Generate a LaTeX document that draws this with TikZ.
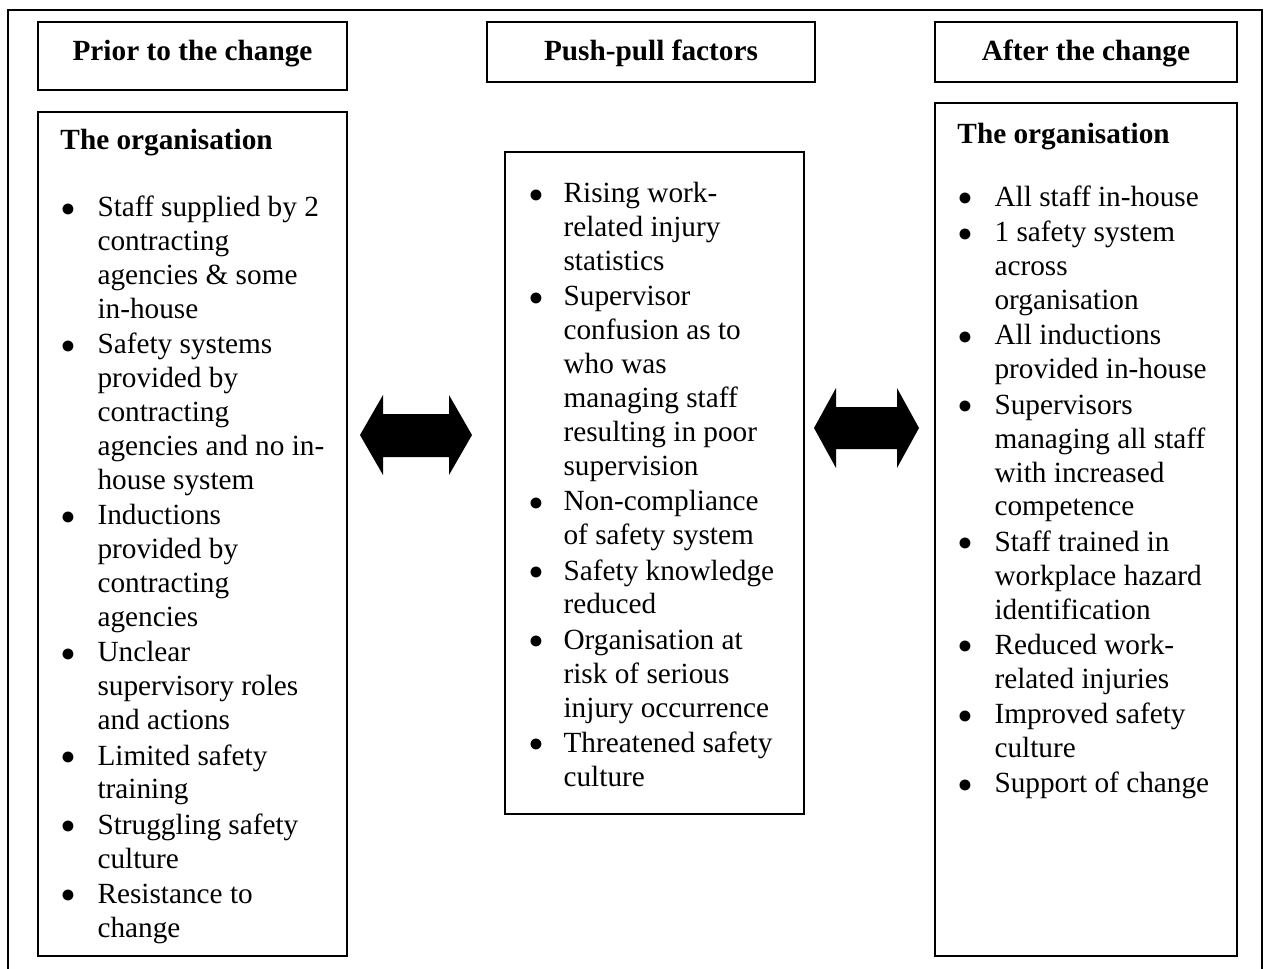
\documentclass[tikz,border=0pt]{standalone}
\usepackage{fontspec}
\setmainfont{Liberation Serif}
\usetikzlibrary{fit}
\tikzset{
  box/.style={draw, line width=0.6pt, inner sep=0pt},
  head/.style={font=\fontsize{12}{13.9}\selectfont\bfseries, inner sep=0pt, anchor=base},
  txt/.style={font=\fontsize{12}{13.9}\selectfont, inner sep=0pt, anchor=base west},
}
\newcommand{\bl}{\raisebox{-3pt}{\scalebox{1.55}{\textbullet}}}
\begin{document}
\begin{tikzpicture}[x=0.41pt, y=-0.41pt]
\useasboundingbox (0,0) rectangle (1265,969);
\draw[line width=0.6pt] (8,969) -- (8,10) -- (1262,10) -- (1262,969);

% column titles
\node[box, fit={(38,22) (347,90)}] (prior) {};
\node[box, fit={(487,22) (815,82)}] (push) {};
\node[box, fit={(935,22) (1237,82)}] (after) {};
\node[head] (priortxt) at (192.5,60) {Prior to the change};
\node[head] (pushtxt) at (651,60) {Push-pull factors};
\node[head] (aftertxt) at (1086,60) {After the change};

% bodies
\node[box, fit={(38,112) (347,956)}] (orgprior) {};
\node[box, fit={(505,152) (804,814)}] (factors) {};
\node[box, fit={(935,103) (1237,956)}] (orgafter) {};

\node[txt] (priorlist) at (60,149) {\begin{tabular}[t]{@{}p{15.2pt}@{}l@{}}
\multicolumn{2}{@{}l@{}}{\textbf{The organisation}}\\
\\
\bl & Staff supplied by 2\\
 & contracting\\
 & agencies \& some\\
 & in-house\\[0.6pt]
\bl & Safety systems\\
 & provided by\\
 & contracting\\
 & agencies and no in-\\
 & house system\\[0.6pt]
\bl & Inductions\\
 & provided by\\
 & contracting\\
 & agencies\\[0.6pt]
\bl & Unclear\\
 & supervisory roles\\
 & and actions\\[0.6pt]
\bl & Limited safety\\
 & training\\[0.6pt]
\bl & Struggling safety\\
 & culture\\[0.6pt]
\bl & Resistance to\\
 & change
\end{tabular}};

\node[txt] (pushlist) at (528,202.7) {\begin{tabular}[t]{@{}p{14.4pt}@{}l@{}}
\bl & Rising work-\\
 & related injury\\
 & statistics\\[0.6pt]
\bl & Supervisor\\
 & confusion as to\\
 & who was\\
 & managing staff\\
 & resulting in poor\\
 & supervision\\[0.6pt]
\bl & Non-compliance\\
 & of safety system\\[0.6pt]
\bl & Safety knowledge\\
 & reduced\\[0.6pt]
\bl & Organisation at\\
 & risk of serious\\
 & injury occurrence\\[0.6pt]
\bl & Threatened safety\\
 & culture
\end{tabular}};

\node[txt] (afterlist) at (957,143) {\begin{tabular}[t]{@{}p{15.2pt}@{}l@{}}
\multicolumn{2}{@{}l@{}}{\textbf{The organisation}}\\[-1.8pt]
\\
\bl & All staff in-house\\[0.6pt]
\bl & 1 safety system\\
 & across\\
 & organisation\\[0.6pt]
\bl & All inductions\\
 & provided in-house\\[0.6pt]
\bl & Supervisors\\
 & managing all staff\\
 & with increased\\
 & competence\\[0.6pt]
\bl & Staff trained in\\
 & workplace hazard\\
 & identification\\[0.6pt]
\bl & Reduced work-\\
 & related injuries\\[0.6pt]
\bl & Improved safety\\
 & culture\\[0.6pt]
\bl & Support of change
\end{tabular}};

% push-pull arrows
\fill (360,435) -- (383,395) -- (383,414) -- (449,414) -- (449,395) -- (472,435)
  -- (449,475) -- (449,457) -- (383,457) -- (383,475) -- cycle;
\fill (814,428) -- (836,388) -- (836,407) -- (897,407) -- (897,388) -- (919,428)
  -- (897,468) -- (897,449) -- (836,449) -- (836,468) -- cycle;
\end{tikzpicture}
\end{document}
